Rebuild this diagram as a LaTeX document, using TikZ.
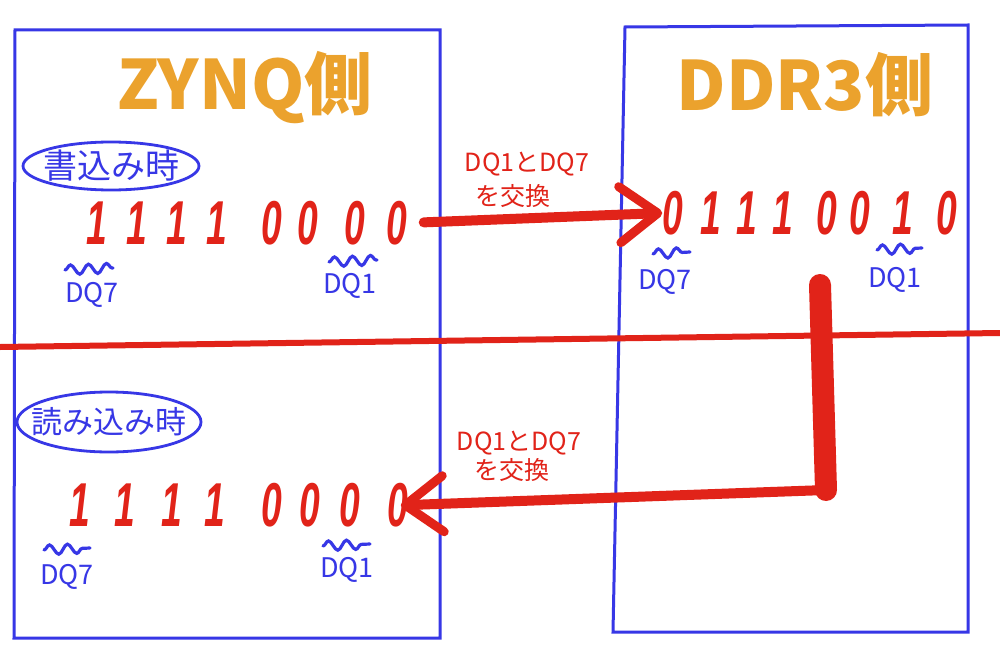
\documentclass[tikz,border=0pt]{standalone}
\usepackage{fontspec}
\usepackage{graphicx}
\setmainfont{Liberation Sans}
\newfontfamily\jp{Noto Sans CJK JP}
\usetikzlibrary{arrows.meta,decorations.pathmorphing}
\definecolor{penred}{RGB}{225,35,25}
\definecolor{penblue}{RGB}{55,55,230}
\definecolor{penorange}{RGB}{235,162,45}
\tikzset{
  bit/.style={inner sep=0pt, text=penred, font=\fontsize{31}{31}\selectfont\itshape},
  title/.style={inner sep=0pt, text=penorange, font=\jp\bfseries\fontsize{34}{34}\selectfont},
  dqlabel/.style={inner sep=0pt, text=penblue, font=\jp\fontsize{13.5}{13.5}\selectfont},
  swaplabel/.style={inner sep=0pt, text=penred, font=\jp\fontsize{12.5}{12.5}\selectfont},
  modelabel/.style={inner sep=0pt, text=penblue},
  panel/.style={draw=penblue, line width=1.5pt},
  oval/.style={draw=penblue, line width=1.4pt},
  squiggle/.style={draw=penblue, line width=1.6pt, line cap=round,
    decorate, decoration={snake, amplitude=2.4pt, segment length=9pt}},
  bigarrow/.style={draw=penred, line width=5pt, line cap=round,
    -{Straight Barb[length=19pt,width=28pt,line width=4.5pt,round]}},
  divider/.style={draw=penred, line width=3pt},
}
\newcommand\bitglyph[1]{\scalebox{0.6}[1]{\bfseries #1}}
\begin{document}
\begin{tikzpicture}[x=0.5pt,y=-0.5pt]
\useasboundingbox (0,0) rectangle (1000,658);
\fill[white] (0,0) rectangle (1000,658);

% panels
\draw[panel] (15,30) -- (440,30) -- (440,638) -- (14,638) -- cycle;
\draw[panel] (625,27) -- (968,25) -- (968,632) -- (613,632) -- cycle;

% divider
\coordinate (dl) at (0,347);
\coordinate (dr) at (1000,333);
\draw[divider] (dl) -- (dr);

% titles
\node[title] (zynq) at (245,88) {ZYNQ側};
\node[title] (ddr) at (805,85) {DDR3側};

% mode labels
\node[modelabel, font=\jp\fontsize{17}{17}\selectfont] (wr) at (111,166) {書込み時};
\draw[oval] (wr) ellipse [x radius=44pt, y radius=12pt];
\node[modelabel, font=\jp\fontsize{15.5}{15.5}\selectfont] (rd) at (109,422) {読み込み時};
\draw[oval] (rd) ellipse [x radius=46pt, y radius=15pt];

% bits
\foreach \x/\d [count=\i] in {97/1,137/1,177/1,217/1,272/0,308/0,355/0,397/0}
  \node[bit] (t\i) at (\x,223) {\bitglyph{\d}};
\foreach \x/\d [count=\i] in {673/0,711/1,747/1,783/1,827/0,860/0,903/1,947/0}
  \node[bit] (r\i) at (\x,213) {\bitglyph{\d}};
\foreach \x/\d [count=\i] in {80/1,125/1,172/1,215/1,272/0,310/0,350/0,398/0}
  \node[bit] (b\i) at (\x,505) {\bitglyph{\d}};

% DQ labels with squiggles
\node[dqlabel] (tq7) at (92,295) {DQ7};
\draw[squiggle] (65,270) -- (113,268);
\node[dqlabel] (tq1) at (350,286) {DQ1};
\draw[squiggle] (329,262) -- (377,260);
\node[dqlabel] (rq7) at (665,282) {DQ7};
\draw[squiggle] (653,254) -- (690,252);
\node[dqlabel] (rq1) at (895,280) {DQ1};
\draw[squiggle] (877,250) -- (922,248);
\node[dqlabel] (bq7) at (67,577) {DQ7};
\draw[squiggle] (44,550) -- (90,548);
\node[dqlabel] (bq1) at (347,570) {DQ1};
\draw[squiggle] (323,546) -- (370,544);

% swap labels
\node[swaplabel] (s1a) at (527,164) {DQ1とDQ7};
\node[swaplabel] (s1b) at (513,196) {を交換};
\node[swaplabel] (s2a) at (519,443) {DQ1とDQ7};
\node[swaplabel] (s2b) at (512,470) {を交換};

% write arrow
\draw[bigarrow, shorten <=8pt] (t8.east) -- (r1.west);

% read path
\coordinate (vtop) at (820,285);
\coordinate (corner) at (826,490);
\draw[draw=penred, line width=11pt, line cap=round] (vtop) -- (corner);
\draw[bigarrow, shorten >=-4pt] (corner) -- (b8.east);
\end{tikzpicture}
\end{document}
